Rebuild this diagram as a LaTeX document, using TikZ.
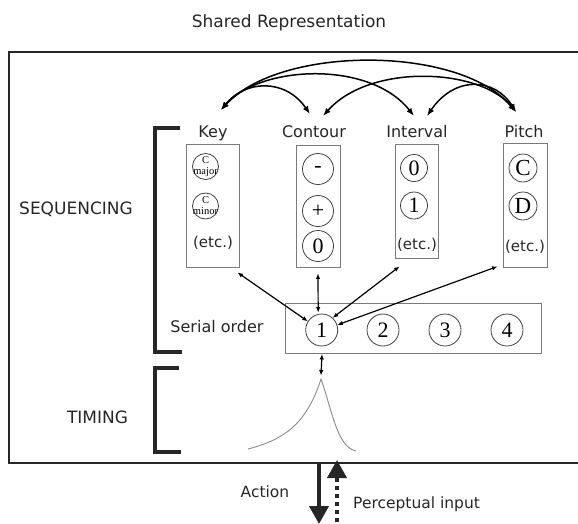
\documentclass[tikz,border=0pt]{standalone}
\usepackage{fontspec}
\setmainfont{Liberation Serif}
\newfontfamily\vsans{DejaVu Sans}
\usetikzlibrary{arrows.meta,calc}
\definecolor{ink}{HTML}{262626}
\definecolor{framegray}{HTML}{7A7A7A}
\definecolor{curvegray}{HTML}{8A8A8A}

\begin{document}
\begin{tikzpicture}[x=1pt,y=-1pt,
  txt/.style={font=\vsans\fontsize{16}{19}\selectfont, text=ink, inner sep=0pt, anchor=base},
  bigtxt/.style={txt, font=\vsans\fontsize{17}{20}\selectfont},
  etc/.style={font=\vsans\fontsize{15}{17}\selectfont, text=ink, inner sep=0pt},
  catbox/.style={draw=framegray, line width=0.9pt, inner sep=0pt},
  ring/.style={circle, draw=black!75, line width=0.8pt, inner sep=0pt, text=black},
  digit/.style={ring, font=\fontsize{22}{22}\selectfont},
  keyring/.style={ring, minimum size=26pt, inner sep=-5pt, align=center,
    font=\fontsize{10.5}{11}\selectfont},
  bracket/.style={line width=3.4pt, ink},
  arc/.style={line width=1.5pt, {Latex[length=8pt,width=6pt]}-{Latex[length=8pt,width=6pt]}},
  link/.style={line width=1.2pt, {Latex[length=5.5pt,width=4.5pt]}-{Latex[length=5.5pt,width=4.5pt]}},
  bigarrow/.style={line width=4pt, -{Triangle[length=18pt,width=19pt]}}
]
\useasboundingbox (0,0) rectangle (578,523);
\begin{scope}
\clip (0,0) rectangle (578,523);

% outer frame of the shared representation
\draw[line width=2.2pt, black!85] (9,52) rectangle (600,463);

% title and side labels
\node[bigtxt] (title) at (289,27) {Shared Representation};
\node[bigtxt] (seq) at (76,214) {SEQUENCING};
\node[bigtxt] (tim) at (97.5,423) {TIMING};
\node[txt] (serlbl) at (217,332) {Serial order};

% brackets
\draw[bracket] (180,128) -- (155,128) -- (155,352) -- (182,352);
\draw[bracket] (179,368) -- (155,368) -- (155,452) -- (181,452);

% category labels
\node[txt] (keyl) at (213,137) {Key};
\node[txt] (conl) at (314,137) {Contour};
\node[txt] (intl) at (417,137) {Interval};
\node[txt] (pitl) at (524,137) {Pitch};

% category boxes
\node[catbox, minimum width=53pt, minimum height=123pt] (kbox) at (212.5,205.5) {};
\node[catbox, minimum width=44pt, minimum height=122pt] (cbox) at (318,206) {};
\node[catbox, minimum width=43pt, minimum height=114pt] (ibox) at (416.5,201) {};
\node[catbox, minimum width=44pt, minimum height=124pt] (pbox) at (525,205) {};

% key entries
\node[keyring] (k1) at (205.5,166.5) {C\\major};
\node[keyring] (k2) at (205.5,206) {C\\minor};
\node[etc] (ketc) at (213,243) {(etc.)};

% contour entries
\node[digit, minimum size=31pt] (c1) at (318,169) {-};
\node[digit, minimum size=31pt] (c2) at (318,211) {+};
\node[digit, minimum size=31pt] (c3) at (318,246) {0};

% interval entries
\node[digit, minimum size=27pt] (i1) at (414,168) {0};
\node[digit, minimum size=27pt] (i2) at (414,205.5) {1};
\node[etc] (ietc) at (417,245) {(etc.)};

% pitch entries
\node[digit, minimum size=28pt, font=\fontsize{23}{23}\selectfont] (p1) at (523,168) {C};
\node[digit, minimum size=28pt, font=\fontsize{23}{23}\selectfont] (p2) at (523,206) {D};
\node[etc] (petc) at (525,247) {(etc.)};

% serial order
\node[catbox, minimum width=256pt, minimum height=50pt] (sbox) at (413,328) {};
\node[digit, minimum size=32pt] (s1) at (321.7,330) {1};
\node[digit, minimum size=32pt] (s2) at (383,330) {2};
\node[digit, minimum size=32pt] (s3) at (445,330) {3};
\node[digit, minimum size=32pt] (s4) at (507,330) {4};

% arc end points above the category labels
\coordinate (kA) at (221,110);
\coordinate (cL) at (310,114);
\coordinate (cR) at (323,116);
\coordinate (iL) at (414,116);
\coordinate (iR) at (427,116);
\coordinate (pA) at (516,112);

% associations between the categories
\draw[arc] (kA) .. controls (245,80) and (285,78) .. (cL);
\draw[arc] (kA) .. controls (260,65) and (370,60) .. (iL);
\draw[arc] (kA) .. controls (280,45) and (460,45) .. (pA);
\draw[arc] (pA) .. controls (480,68) and (370,63) .. (cR);
\draw[arc] (pA) .. controls (495,78) and (455,75) .. (iR);

% links between serial position 1 and the categories
\draw[link] (s1.148) -- ($(kbox.south east)+(-2,5)$);
\draw[link] ($(s1.north)+(-3.5,-1)$) -- ($(cbox.south)+(0,6)$);
\draw[link] (s1.48) -- ($(ibox.south west)+(5,8)$);
\draw[link] (s1.18) -- ($(pbox.south west)+(-5,-1)$);

% timing curve
\coordinate (peak) at (321,379);
\draw[curvegray, line width=0.9pt] (248,449) .. controls (282,440) and (306,426) .. (peak)
  .. controls (332,410) and (337,447) .. (356,451);
\draw[link] ($(sbox.south)+(-91,0.5)$) -- ($(peak)+(0,-3.5)$);

% action and perceptual input
\coordinate (actTop) at (319,464);
\coordinate (actEnd) at (319,524);
\coordinate (perStart) at (337,530);
\coordinate (perTip) at (337,460);
\draw[bigarrow, ink] (actTop) -- (actEnd);
\draw[bigarrow, ink, dash pattern=on 4pt off 4pt] (perStart) -- (perTip);
\node[txt, font=\vsans\fontsize{15.5}{18}\selectfont] (actl) at (265,497) {Action};
\node[txt, font=\vsans\fontsize{15.5}{18}\selectfont, anchor=base west] (perl) at (353,508) {Perceptual input};
\end{scope}
\end{tikzpicture}
\end{document}
